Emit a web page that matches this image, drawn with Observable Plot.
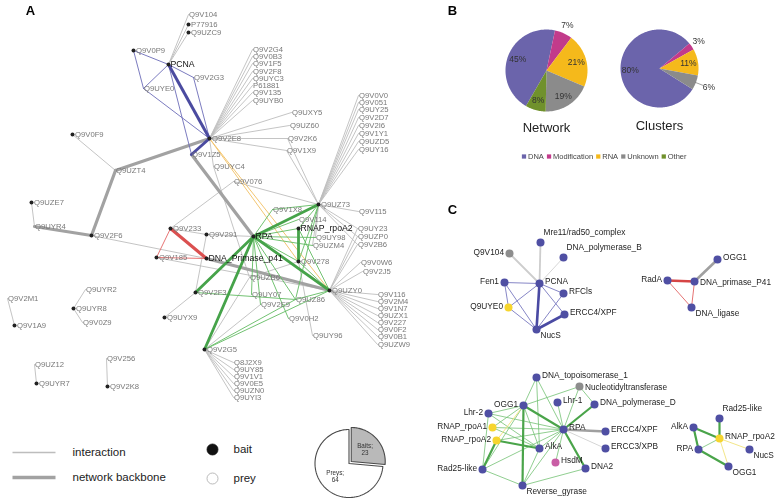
<!DOCTYPE html>
<html><head><meta charset="utf-8">
<script src="https://cdn.jsdelivr.net/npm/d3@7"></script>
<script src="https://cdn.jsdelivr.net/npm/@observablehq/plot@0.6"></script>
<style>body{margin:0;background:#fff}#chart svg{display:block}#chart svg g[aria-label="text"]{opacity:0.995}</style>
</head><body><div id="chart"></div>
<script>
// ---------- Panel A: network (layout coordinates, role) ----------
const netNodes = [
 ["PCNA",168,64,"hub"],["Q9V104",188,14,"prey"],["P77916",188,24,"bait"],["Q9UZC9",188,32,"bait"],
 ["Q9V0P9",133,50,"bait"],["Q9V2G3",193,77,"prey"],["Q9UYE0",143,88,"prey"],["Q9V2E8",209,138,"bait"],
 ["Q9V1Z5",191,154,"prey"],["Q9UYC4",213,166,"prey"],["Q9V076",233,181,"prey"],["Q9V0F9",72,134,"bait"],
 ["Q9UZT4",115,170,"prey"],["Q9UZE7",31,202,"bait"],["Q9UYR4",34,226,"prey"],["Q9V2F6",91,235,"bait"],
 ["Q9V233",170,228,"bait"],["Q9V291",206,234,"bait"],["RPA",253,236,"hub"],["Q9V185",156,257,"bait"],
 ["DNA_Primase_p41",206,258,"hub"],
 ["Q9V2G4",252,49,"prey"],["Q9V0B3",252,56,"prey"],["Q9V1F5",252,63,"prey"],["Q9V2F8",252,71,"prey"],
 ["Q9UYC3",252,78,"prey"],["P61881",252,85,"prey"],["Q9V135",252,92,"prey"],["Q9UYB0",252,100,"prey"],
 ["Q9UXY5",291,112,"prey"],["Q9UZ60",289,125,"prey"],["Q9V2K6",287,138,"prey"],["Q9V1X9",286,150,"prey"],
 ["Q9V0V0",358,95,"prey"],["Q9V051",358,102,"prey"],["Q9UY25",358,109,"prey"],["Q9V2D7",358,117,"prey"],
 ["Q9V2I6",358,125,"prey"],["Q9V1Y1",358,133,"prey"],["Q9UZD5",358,141,"prey"],["Q9UY16",358,149,"prey"],
 ["Q9UZ73",318,204,"bait"],["Q9V115",358,211,"prey"],["Q9V1X8",272,209,"prey"],["Q9V114",298,219,"prey"],
 ["RNAP_rpoA2",298,228,"hub"],["Q9UY23",357,228,"prey"],["Q9UZP0",357,236,"prey"],["Q9V2B6",357,244,"prey"],
 ["Q9UY98",315,237,"prey"],["Q9UZM4",312,245,"prey"],["Q9V278",298,261,"bait"],["Q9UZB6",249,277,"prey"],
 ["Q9UZY0",329,290,"bait"],["Q9V0W6",360,262,"prey"],["Q9V2J5",362,271,"prey"],
 ["Q9V116",377,294,"prey"],["Q9V2M4",377,301,"prey"],["Q9V1N7",377,308,"prey"],["Q9UZX1",377,315,"prey"],
 ["Q9V227",377,322,"prey"],["Q9V0F2",377,329,"prey"],["Q9V0B1",377,336,"prey"],["Q9UZW9",377,344,"prey"],
 ["Q9V2F3",195,292,"bait"],["Q9UY07",251,294,"prey"],["Q9V2E9",260,304,"prey"],["Q9UZ86",295,299,"prey"],
 ["Q9V0H2",288,318,"prey"],["Q9UY96",312,335,"prey"],["Q9V2G5",204,349,"bait"],
 ["Q8J2X9",233,362,"prey"],["Q9UY85",233,369,"prey"],["Q9V1V1",233,376,"prey"],["Q9V0E5",233,383,"prey"],
 ["Q9UZN0",233,390,"prey"],["Q9UYI3",233,397,"prey"],["Q9UYX9",164,317,"bait"],
 ["Q9UYR2",85,289,"prey"],["Q9UYR8",73,308,"bait"],["Q9V0Z9",82,322,"prey"],
 ["Q9V2M1",7,298,"prey"],["Q9V1A9",14,325,"bait"],["Q9UZ12",34,364,"prey"],["Q9UYR7",36,383,"bait"],
 ["Q9V256",106,358,"prey"],["Q9V2K8",107,386,"bait"]
];
// edge kinds: i interaction, b backbone, u/U blue thin/thick, r/R red, g/G green, o orange
const netEdges = [
 ["PCNA","Q9V104","i"],["PCNA","P77916","i"],["PCNA","Q9UZC9","i"],
 ["Q9V2E8","Q9V2G4","i"],["Q9V2E8","Q9V0B3","i"],["Q9V2E8","Q9V1F5","i"],["Q9V2E8","Q9V2F8","i"],
 ["Q9V2E8","Q9UYC3","i"],["Q9V2E8","P61881","i"],["Q9V2E8","Q9V135","i"],["Q9V2E8","Q9UYB0","i"],
 ["Q9V2E8","Q9UXY5","i"],["Q9V2E8","Q9UZ60","i"],["Q9V2E8","Q9V2K6","i"],["Q9V2E8","Q9V1X9","i"],
 ["Q9V2E8","Q9UYC4","i"],["Q9UYC4","Q9UZB6","i"],
 ["Q9UZ73","Q9V0V0","i"],["Q9UZ73","Q9V051","i"],["Q9UZ73","Q9UY25","i"],["Q9UZ73","Q9V2D7","i"],
 ["Q9UZ73","Q9V2I6","i"],["Q9UZ73","Q9V1Y1","i"],["Q9UZ73","Q9UZD5","i"],["Q9UZ73","Q9UY16","i"],
 ["Q9UZ73","Q9V1X9","i"],["Q9UZ73","Q9V2K6","i"],["Q9UZ73","Q9V115","i"],["Q9UZ73","Q9V076","i"],
 ["Q9UZ73","Q9UY23","i"],["Q9UZ73","Q9UZP0","i"],["Q9UZ73","Q9V2B6","i"],["Q9UZ73","Q9UZM4","i"],["Q9UZ73","Q9UY98","i"],
 ["Q9V076","Q9V233","i"],["Q9UZT4","Q9V0F9","i"],["Q9UYR4","Q9UZE7","i"],["Q9V2F6","DNA_Primase_p41","i"],
 ["Q9V233","Q9V291","i"],["Q9V291","RPA","i"],["Q9V291","Q9V2F3","i"],["Q9V2F3","Q9UYX9","i"],
 ["Q9V185","Q9UZY0","i"],["Q9V2G5","Q9UZB6","i"],["Q9V2G5","Q9V2E9","i"],["Q9V278","Q9UY96","i"],["Q9V278","Q9UZB6","i"],
 ["Q9V2G5","Q8J2X9","i"],["Q9V2G5","Q9UY85","i"],["Q9V2G5","Q9V1V1","i"],["Q9V2G5","Q9V0E5","i"],
 ["Q9V2G5","Q9UZN0","i"],["Q9V2G5","Q9UYI3","i"],
 ["Q9UZY0","Q9V116","i"],["Q9UZY0","Q9V2M4","i"],["Q9UZY0","Q9V1N7","i"],["Q9UZY0","Q9UZX1","i"],
 ["Q9UZY0","Q9V227","i"],["Q9UZY0","Q9V0F2","i"],["Q9UZY0","Q9V0B1","i"],["Q9UZY0","Q9UZW9","i"],
 ["Q9UZY0","Q9V0W6","i"],["Q9UZY0","Q9V2J5","i"],["Q9UZY0","Q9UY23","i"],["Q9UZY0","Q9UZP0","i"],["Q9UZY0","Q9V2B6","i"],
 ["Q9UYR8","Q9UYR2","i"],["Q9UYR8","Q9V0Z9","i"],["Q9V1A9","Q9V2M1","i"],["Q9UYR7","Q9UZ12","i"],["Q9V2K8","Q9V256","i"],
 ["Q9V2E8","Q9UZT4","b"],["Q9UZT4","Q9V2F6","b"],["Q9V2F6","Q9UYR4","b"],["Q9V1Z5","RPA","b"],["DNA_Primase_p41","Q9UZY0","b"],
 ["Q9V2E8","Q9UZY0","o"],["Q9V2E8","Q9V278","o"],
 ["PCNA","Q9V0P9","u"],["PCNA","Q9UYE0","u"],["PCNA","Q9V2G3","u"],["PCNA","Q9V1Z5","u"],
 ["Q9V0P9","Q9UYE0","u"],["Q9UYE0","Q9V2E8","u"],["Q9V2G3","Q9V2E8","u"],
 ["PCNA","Q9V2E8","U"],["Q9V2E8","Q9V1Z5","U"],
 ["Q9V233","Q9V185","r"],["Q9V185","DNA_Primase_p41","r"],["Q9V233","DNA_Primase_p41","R"],
 ["RPA","Q9V1X8","g"],["RPA","Q9V114","g"],["RPA","RNAP_rpoA2","g"],["RPA","Q9UY98","g"],["RPA","Q9UZM4","g"],
 ["RPA","Q9V278","g"],["RPA","Q9UZ86","g"],["RPA","Q9UY07","g"],["RPA","Q9V2E9","g"],["RPA","Q9V0H2","g"],
 ["Q9V2F3","Q9UZ86","g"],["Q9V2G5","Q9UZY0","g"],["Q9V2G5","Q9UZ86","g"],["Q9UZ73","Q9V278","g"],
 ["Q9UZ73","Q9UZ86","g"],["Q9UZY0","Q9UZ86","g"],["Q9UZY0","Q9V278","g"],["Q9UZY0","RNAP_rpoA2","g"],
 ["Q9UZ73","Q9V1X8","g"],["Q9UZ73","RNAP_rpoA2","g"],
 ["RPA","Q9UZ73","G"],["RPA","Q9V2F3","G"],["RPA","Q9V2G5","G"],["RPA","Q9UZY0","G"],["RNAP_rpoA2","Q9V278","G"]
];
const baitPreyLabels = ["Baits","Preys"];
const baitPreyCounts = [23,64];
const legendLineLabels = ["interaction","network backbone"];
const legendNodeLabels = ["bait","prey"];

// ---------- Panel B ----------
const funcCategories = ["DNA","Modification","RNA","Unknown","Other"];
const networkShare = [45,7,21,19,8];
const clusterShare = [80,3,11,6,0];
const pieTitles = ["Network","Clusters"];

// ---------- Panel C: clusters ----------
const clusterNodes = [
 ["PCNA1","PCNA",539,283,"DNA","r"],["Mre11","Mre11/rad50_complex",540,242,"DNA","ru"],
 ["Q9V104c","Q9V104",509,253,"Unknown","l"],["PolB","DNA_polymerase_B",563,257,"DNA","ru"],
 ["Fen1","Fen1",504,282,"DNA","l"],["RFCls","RFCls",563,293,"DNA","r"],
 ["Q9UYE0c","Q9UYE0",508,307,"RNA","l"],["ERCC4a","ERCC4/XPF",564,314,"DNA","r"],["NucS1","NucS",536,329,"DNA","rd"],
 ["OGG1b","OGG1",717,259,"DNA","r"],["RadA","RadA",667,280,"DNA","l"],
 ["Prim","DNA_primase_P41",694,281,"DNA","r0"],["Lig","DNA_ligase",691,307,"DNA","rd"],
 ["Topo","DNA_topoisomerase_1",536,377,"DNA","r"],["Ntr","Nucleotidyltransferase",579,386,"Unknown","r0"],
 ["OGG1c","OGG1",523,405,"DNA","l"],["Lhr1","Lhr-1",557,402,"DNA","r"],["PolD","DNA_polymerase_D",594,404,"DNA","r"],
 ["Lhr2","Lhr-2",488,413,"DNA","l"],["rpoA1","RNAP_rpoA1",492,427,"RNA","l"],["rpoA2","RNAP_rpoA2",496,440,"RNA","l"],
 ["RPAc","RPA",563,429,"DNA","r"],["ERCC4c","ERCC4/XPF",605,431,"DNA","r"],["ERCC3","ERCC3/XPB",605,448,"DNA","r"],
 ["AlkAc","AlkA",539,448,"DNA","r"],["HsdM","HsdM",555,462,"Modification","r"],["DNA2","DNA2",585,468,"DNA","r"],
 ["Rad25c","Rad25-like",482,469,"DNA","l"],["RevG","Reverse_gyrase",522,485,"DNA","rd"],
 ["Rad25d","Rad25-like",719,418,"DNA","ru"],["AlkAd","AlkA",693,427,"DNA","l"],["rpoA2d","RNAP_rpoA2",719,438,"RNA","r"],
 ["RPAd","RPA",698,449,"DNA","l"],["NucSd","NucS",749,449,"DNA","rd"],["OGG1d","OGG1",728,466,"DNA","rd"]
];
const clusterEdges = [
 ["PCNA1","Mre11","l"],["PCNA1","Q9V104c","l"],["PCNA1","PolB","e"],["PCNA1","Fen1","u"],["PCNA1","Q9UYE0c","u"],
 ["PCNA1","RFCls","u"],["PCNA1","ERCC4a","u"],["Fen1","Q9UYE0c","u"],["Fen1","NucS1","u"],["Q9UYE0c","NucS1","u"],
 ["NucS1","RFCls","u"],["PCNA1","NucS1","U"],["NucS1","ERCC4a","U"],
 ["RadA","Lig","r"],["Prim","Lig","r"],["RadA","Prim","R"],["Prim","OGG1b","L"],
 ["RPAc","ERCC3","e"],["RPAc","ERCC4c","L"],
 ["RPAc","Ntr","g"],["Ntr","OGG1c","g"],["Ntr","PolD","g"],["Topo","OGG1c","g"],["Topo","RPAc","g"],["Topo","AlkAc","g"],
 ["Lhr1","RPAc","g"],["Lhr2","OGG1c","g"],["Lhr2","RPAc","g"],["Lhr2","AlkAc","g"],["Lhr2","Rad25c","g"],
 ["rpoA1","OGG1c","g"],["rpoA1","RPAc","g"],["rpoA1","AlkAc","g"],["rpoA2","RPAc","g"],["rpoA2","OGG1c","y"],
 ["Rad25c","OGG1c","g"],["Rad25c","RevG","g"],["Rad25c","RPAc","g"],["RevG","DNA2","g"],["RevG","RPAc","g"],
 ["AlkAc","RPAc","g"],["HsdM","RPAc","g"],["AlkAc","RevG","g"],["OGG1c","AlkAc","g"],
 ["OGG1c","RPAc","G"],["OGG1c","RevG","G"],["rpoA2","AlkAc","G"],["RPAc","PolD","G"],["RPAc","DNA2","G"],["Rad25c","rpoA2","G"],
 ["RPAd","rpoA2d","g"],["rpoA2d","NucSd","y"],["rpoA2d","OGG1d","y"],
 ["AlkAd","rpoA2d","G"],["AlkAd","RPAd","G"],["RPAd","OGG1d","G"],["Rad25d","rpoA2d","G"]
];

// ---------- styles ----------
const W = 779, H = 502;
const FONT = "Liberation Sans, Arial, Helvetica, sans-serif";
const pieColors = {DNA:"#6b64ab", Modification:"#c23b8b", RNA:"#f5b91b", Unknown:"#8b8b8b", Other:"#70912c"};
const nodeColors = {DNA:"#4f4fa3", Modification:"#c95ea5", RNA:"#f6d52e", Unknown:"#8d8d8d"};
const aStyle = {i:["#bdbdbd",0.9], b:["#a2a2a2",3.2], o:["#f3c672",1], g:["#62bb62",0.9], u:["#6c6cb8",0.9],
  r:["#e46464",0.9], G:["#46a34a",2.8], U:["#4b4ba0",3], R:["#db5050",3.2]};
const aOrder = "ibogurGUR";
const cStyle = {e:["#d6d6d6",1], l:["#cdcdcd",1.8], L:["#a0a0a0",2.6], u:["#8686c6",1], U:["#4a4aa3",2.6],
  r:["#e57373",1], R:["#d64545",2.6], g:["#74c274",0.8], y:["#f0e27a",0.9], G:["#4aa44a",2.2]};
const cOrder = "elLgyurGUR";

// ---------- derived data ----------
const nmap = new Map(netNodes.map(([id,x,y,role]) => [id,{id,x,y,role}]));
const aLinks = netEdges.filter(([s,t]) => nmap.has(s) && nmap.has(t))
  .map(([s,t,k]) => ({a:nmap.get(s), b:nmap.get(t), k}))
  .sort((p,q) => aOrder.indexOf(p.k) - aOrder.indexOf(q.k));
const aNodes = [...nmap.values()];

const cmap = new Map(clusterNodes.map(([id,label,x,y,cls,side]) => [id,{id,label,x,y,cls,side}]));
const cLinks = clusterEdges.filter(([s,t]) => cmap.has(s) && cmap.has(t))
  .map(([s,t,k]) => ({a:cmap.get(s), b:cmap.get(t), k}))
  .sort((p,q) => cOrder.indexOf(p.k) - cOrder.indexOf(q.k));
const cNodes = [...cmap.values()];
const sideOff = {r:[5.5,-2], r0:[5.5,1], ru:[3,-10], rd:[4,6], l:[-5.5,-1]};
const cRight = cNodes.filter(d => d.side !== "l"), cLeft = cNodes.filter(d => d.side === "l");

// pies
const rad = a => a*Math.PI/180;
function wedge(id, cx, cy, r, a0, a1, color, stroke) {
  const pts = [{id,x:cx,y:cy,color,stroke}];
  const n = Math.max(2, Math.ceil((a1-a0)/1.5));
  for (let i=0;i<=n;i++){ const a = rad(a0 + (a1-a0)*i/n); pts.push({id,x:cx+r*Math.sin(a),y:cy-r*Math.cos(a),color,stroke}); }
  return pts;
}
const pieSpecs = [
  {name:pieTitles[0], values:networkShare, cx:546, cy:70, r:41, start:210},
  {name:pieTitles[1], values:clusterShare, cx:659, cy:68, r:39, start:122}
];
const pieRows = [], pieLabels = [], leaders = [];
for (const p of pieSpecs) {
  let a = p.start;
  p.values.forEach((v,i) => {
    if (!v) return;
    const span = v*3.6, a0 = a, a1 = a+span, mid = rad(a+span/2);
    pieRows.push(...wedge(p.name+i, p.cx, p.cy, p.r, a0, a1, pieColors[funcCategories[i]], "none"));
    let f = 0.75;
    if (v < 7.5) {
      const midDeg = (a+span/2)%360;
      if (midDeg > 90 && midDeg < 180) { f = 1.36; leaders.push({x1:p.cx+p.r*0.98*Math.sin(mid), y1:p.cy-p.r*0.98*Math.cos(mid), x2:p.cx+p.r*1.2*Math.sin(mid), y2:p.cy-p.r*1.2*Math.cos(mid)}); }
      else f = 1.22;
    }
    pieLabels.push({x:p.cx+p.r*f*Math.sin(mid), y:p.cy-p.r*f*Math.cos(mid), text:v+"%"});
    a = a1;
  });
}
// bait / prey pie
const bp = {cx:348.5, cy:463, r:34};
const bpTotal = d3.sum(baitPreyCounts);
let bpa = 0;
const bpLabels = [];
baitPreyCounts.forEach((v,i) => {
  const span = v/bpTotal*360, mid = rad(bpa+span/2);
  const off = i===0 ? 3 : 0;
  const cx = bp.cx + off*Math.sin(mid), cy = bp.cy - off*Math.cos(mid);
  pieRows.push(...wedge("bp"+i, cx, cy, bp.r, bpa, bpa+span, i===0 ? "#b9b9b9" : "#ffffff", "#4a4a4a"));
  bpLabels.push({x:cx+bp.r*0.55*Math.sin(mid), y:cy-bp.r*0.55*Math.cos(mid), text:baitPreyLabels[i]+";\n"+v});
  bpa += span;
});

// B legend positions from measured text widths
const ctx = document.createElement("canvas").getContext("2d");
ctx.font = "7.5px " + FONT;
let cur = 521;
const legB = funcCategories.map(c => { const w = ctx.measureText(c).width; const o = {c, sx:cur+2.5, tx:cur+6.5}; cur = cur+6.5+w+2.7; return o; });

const legLines = legendLineLabels.map((t,i) => ({t, y: i===0 ? 452 : 477, k: i===0 ? "i" : "b"}));
const legNodes = legendNodeLabels.map((t,i) => ({t, y: i===0 ? 449 : 478, bait: i===0}));

const panelLetters = [{t:"A",x:30,y:10},{t:"B",x:452,y:10},{t:"C",x:452,y:209}];

const chart = Plot.plot({
  width: W, height: H, margin: 0,
  x: {domain:[0,W], range:[0,W], axis:null},
  y: {domain:[0,H], range:[0,H], axis:null},
  color: {type:"identity"},
  style: {fontFamily: FONT, background:"#fff", overflow:"visible"},
  marks: [
    // Panel A links
    Plot.link(aLinks, {x1:d=>d.a.x, y1:d=>d.a.y, x2:d=>d.b.x, y2:d=>d.b.y,
      stroke:d=>aStyle[d.k][0], strokeWidth:d=>aStyle[d.k][1], strokeLinecap:"round"}),
    Plot.dot(aNodes.filter(d=>d.role!=="prey"), {x:"x", y:"y", r:2, fill:"#222"}),
    Plot.text(aNodes.filter(d=>d.role!=="hub"), {x:d=>d.x + (d.role==="bait"?2.5:0.5), y:"y", text:"id",
      textAnchor:"start", fontSize:7.7, fill:"#777"}),
    Plot.text(aNodes.filter(d=>d.role==="hub"), {x:d=>d.x+2, y:"y", text:"id", textAnchor:"start", fontSize:8.7, fill:"#111"}),
    // A legend
    Plot.link(legLines, {x1:()=>12, x2:()=>55, y1:"y", y2:"y", stroke:d=>aStyle[d.k][0], strokeWidth:d=>d.k==="b"?3.5:1.3}),
    Plot.text(legLines, {x:()=>72, y:"y", text:"t", textAnchor:"start", fontSize:11.5, fill:"#222"}),
    Plot.dot(legNodes, {x:()=>212, y:"y", r:5.5, fill:d=>d.bait?"#111":"#fff", stroke:d=>d.bait?"#111":"#aaa", strokeWidth:0.8}),
    Plot.text(legNodes, {x:()=>233, y:"y", text:"t", textAnchor:"start", fontSize:11.5, fill:"#222"}),
    // pies (B + bait/prey)
    Plot.line(pieRows, {x:"x", y:"y", z:"id", fill:"color", stroke:"stroke", strokeWidth:1.1, curve:"linear-closed"}),
    Plot.link(leaders, {x1:"x1", y1:"y1", x2:"x2", y2:"y2", stroke:"#777", strokeWidth:0.7}),
    Plot.text(pieLabels, {x:"x", y:"y", text:"text", fontSize:8.5, fill:"#333"}),
    Plot.text(bpLabels, {x:"x", y:"y", text:"text", fontSize:6.3, fill:"#333", lineHeight:1.15}),
    Plot.text(pieSpecs, {x:"cx", y:d=>d.cy+57, text:"name", fontSize:13, fill:"#222"}),
    Plot.dot(legB, {x:"sx", y:()=>156, symbol:"square", r:2.4, fill:d=>pieColors[d.c]}),
    Plot.text(legB, {x:"tx", y:()=>156, text:"c", textAnchor:"start", fontSize:7.5, fill:"#444"}),
    // Panel C
    Plot.link(cLinks, {x1:d=>d.a.x, y1:d=>d.a.y, x2:d=>d.b.x, y2:d=>d.b.y,
      stroke:d=>cStyle[d.k][0], strokeWidth:d=>cStyle[d.k][1]}),
    Plot.dot(cNodes, {x:"x", y:"y", r:4, fill:d=>nodeColors[d.cls]}),
    Plot.text(cRight, {x:d=>d.x+sideOff[d.side][0], y:d=>d.y+sideOff[d.side][1], text:"label",
      textAnchor:"start", fontSize:8.3, fill:"#222"}),
    Plot.text(cLeft, {x:d=>d.x+sideOff[d.side][0], y:d=>d.y+sideOff[d.side][1], text:"label",
      textAnchor:"end", fontSize:8.3, fill:"#222"}),
    // panel letters
    Plot.text(panelLetters, {x:"x", y:"y", text:"t", fontSize:13, fontWeight:"bold", fill:"#000"})
  ]
});
document.getElementById("chart").append(chart);
</script>
</body></html>
